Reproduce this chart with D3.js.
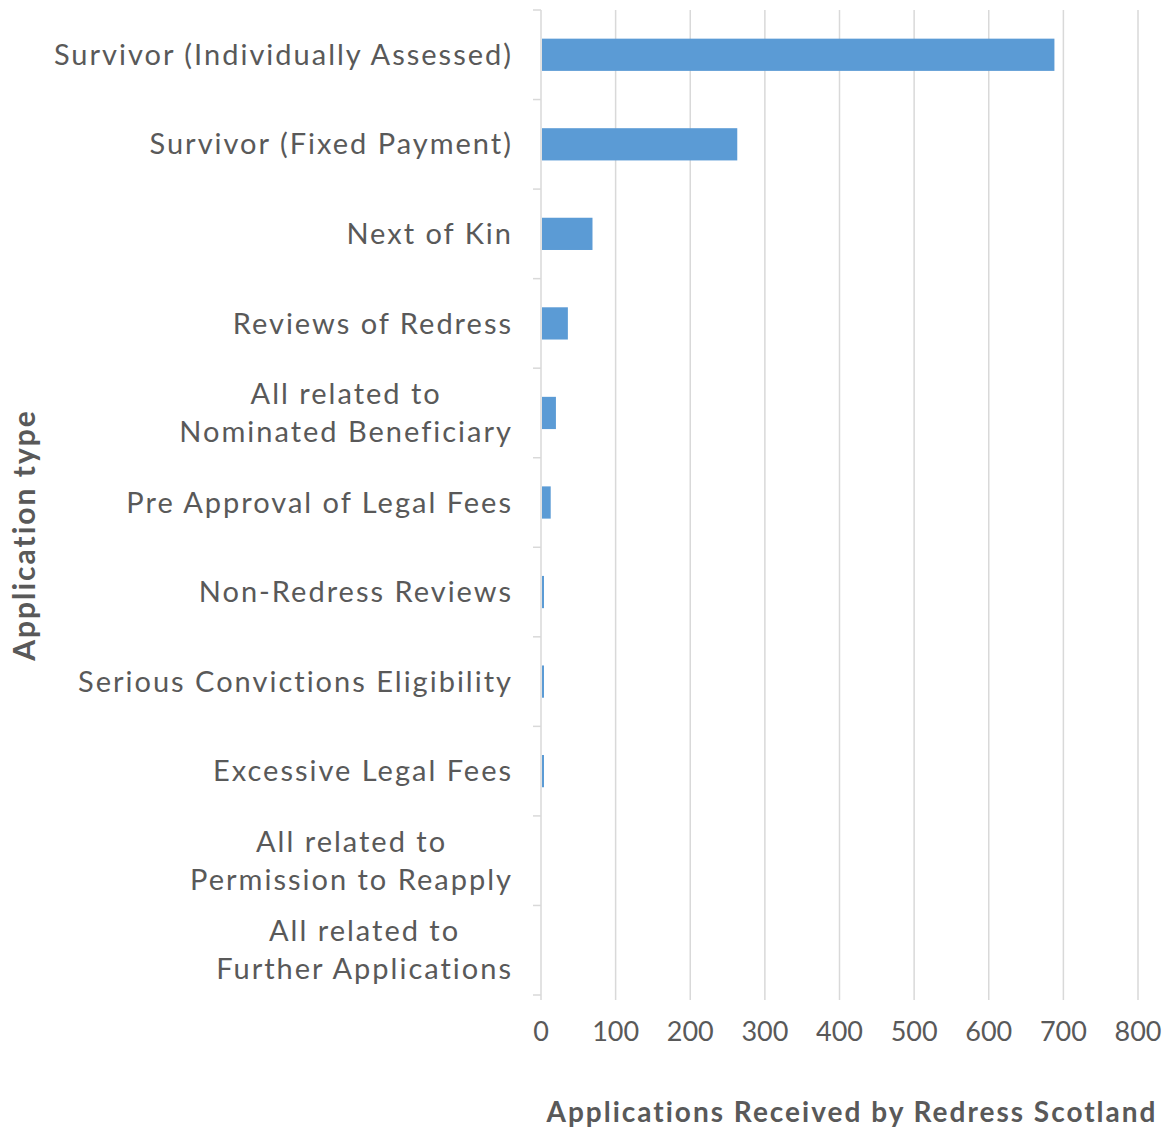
<!DOCTYPE html>
<html>
<head>
<meta charset="utf-8">
<script src="https://cdn.jsdelivr.net/npm/d3@7"></script>
<style>
  body { margin: 0; background: #fff; }
  svg text { font-family: Lato, "Open Sans", sans-serif; fill: #595959; }
</style>
</head>
<body>
<div id="chart"></div>
<script>
// application types, top to bottom (multi-line labels split with \n)
const categories = [
  'Survivor (Individually Assessed)',
  'Survivor (Fixed Payment)',
  'Next of Kin',
  'Reviews of Redress',
  'All related to\nNominated Beneficiary',
  'Pre Approval of Legal Fees',
  'Non-Redress Reviews',
  'Serious Convictions Eligibility',
  'Excessive Legal Fees',
  'All related to\nPermission to Reapply',
  'All related to\nFurther Applications'
];
const applications = [688, 263, 69, 36, 20, 13, 4, 4, 4, 0, 0];
const xTicks = [0, 100, 200, 300, 400, 500, 600, 700, 800];

const svgwidth = 1175;
const svgheight = 1128;
const margin = { left: 541, right: 37, top: 10, bottom: 133 };
const width = svgwidth - margin.left - margin.right;
const height = svgheight - margin.top - margin.bottom;

const svg = d3.select('#chart').append('svg')
  .attr('width', svgwidth)
  .attr('height', svgheight);

const g = svg.append('g')
  .attr('transform', `translate(${margin.left},${margin.top})`);

const x = d3.scaleLinear().domain([0, 800]).range([0, width]);
const y = d3.scaleBand()
  .domain(categories)
  .range([0, height])
  .paddingInner(0.64)
  .paddingOuter(0.32);
const step = y.step();

// vertical gridlines, running a little past the bottom as tick marks
g.append('g')
  .selectAll('line')
  .data(xTicks.slice(1))
  .enter()
  .append('line')
  .attr('x1', d => x(d))
  .attr('x2', d => x(d))
  .attr('y1', 0)
  .attr('y2', height + 5)
  .attr('stroke', '#d9d9d9')
  .attr('stroke-width', 1.5);

// bars
g.selectAll('.bar')
  .data(applications)
  .enter()
  .append('rect')
  .attr('class', 'bar')
  .attr('x', x(0) + 1)
  .attr('y', (d, i) => y(categories[i]))
  .attr('width', d => Math.max(0, x(d) - x(0) - 1))
  .attr('height', y.bandwidth())
  .attr('fill', '#5b9bd5');

// category axis line + boundary ticks
g.append('line')
  .attr('x1', 0).attr('x2', 0)
  .attr('y1', 0).attr('y2', height + 5)
  .attr('stroke', '#d9d9d9')
  .attr('stroke-width', 1.5);
g.append('g')
  .selectAll('line')
  .data(d3.range(categories.length + 1))
  .enter()
  .append('line')
  .attr('x1', -8).attr('x2', 0)
  .attr('y1', d => d * step)
  .attr('y2', d => d * step)
  .attr('stroke', '#d9d9d9')
  .attr('stroke-width', 1.5);

// category labels, right aligned block, lines centred within it
const labels = g.append('g');
categories.forEach((c, i) => {
  const lines = c.split('\n');
  const cy = y(c) + y.bandwidth() / 2;
  const t = labels.append('text')
    .attr('text-anchor', 'middle')
    .attr('font-size', 29)
    .attr('letter-spacing', 2);
  lines.forEach((l, j) => {
    t.append('tspan')
      .attr('x', 0)
      .attr('y', cy + (j - (lines.length - 1) / 2) * 38)
      .attr('dy', '0.35em')
      .text(l);
  });
  const w = d3.max(t.selectAll('tspan').nodes(), n => n.getComputedTextLength());
  t.attr('transform', `translate(${-28 - w / 2},0)`);
});

// value axis labels
g.append('g')
  .selectAll('text')
  .data(xTicks)
  .enter()
  .append('text')
  .attr('x', d => x(d))
  .attr('y', height + 37)
  .attr('dy', '0.35em')
  .attr('text-anchor', 'middle')
  .attr('font-size', 27)
  .text(d => d);

// axis titles
svg.append('text')
  .attr('x', 852)
  .attr('y', 1122)
  .attr('text-anchor', 'middle')
  .attr('font-size', 28)
  .attr('font-weight', 'bold')
  .attr('letter-spacing', 2)
  .text('Applications Received by Redress Scotland');

svg.append('text')
  .attr('transform', 'translate(35,535) rotate(-90)')
  .attr('text-anchor', 'middle')
  .attr('font-size', 30)
  .attr('font-weight', 'bold')
  .attr('letter-spacing', 2)
  .text('Application type');
</script>
</body>
</html>
